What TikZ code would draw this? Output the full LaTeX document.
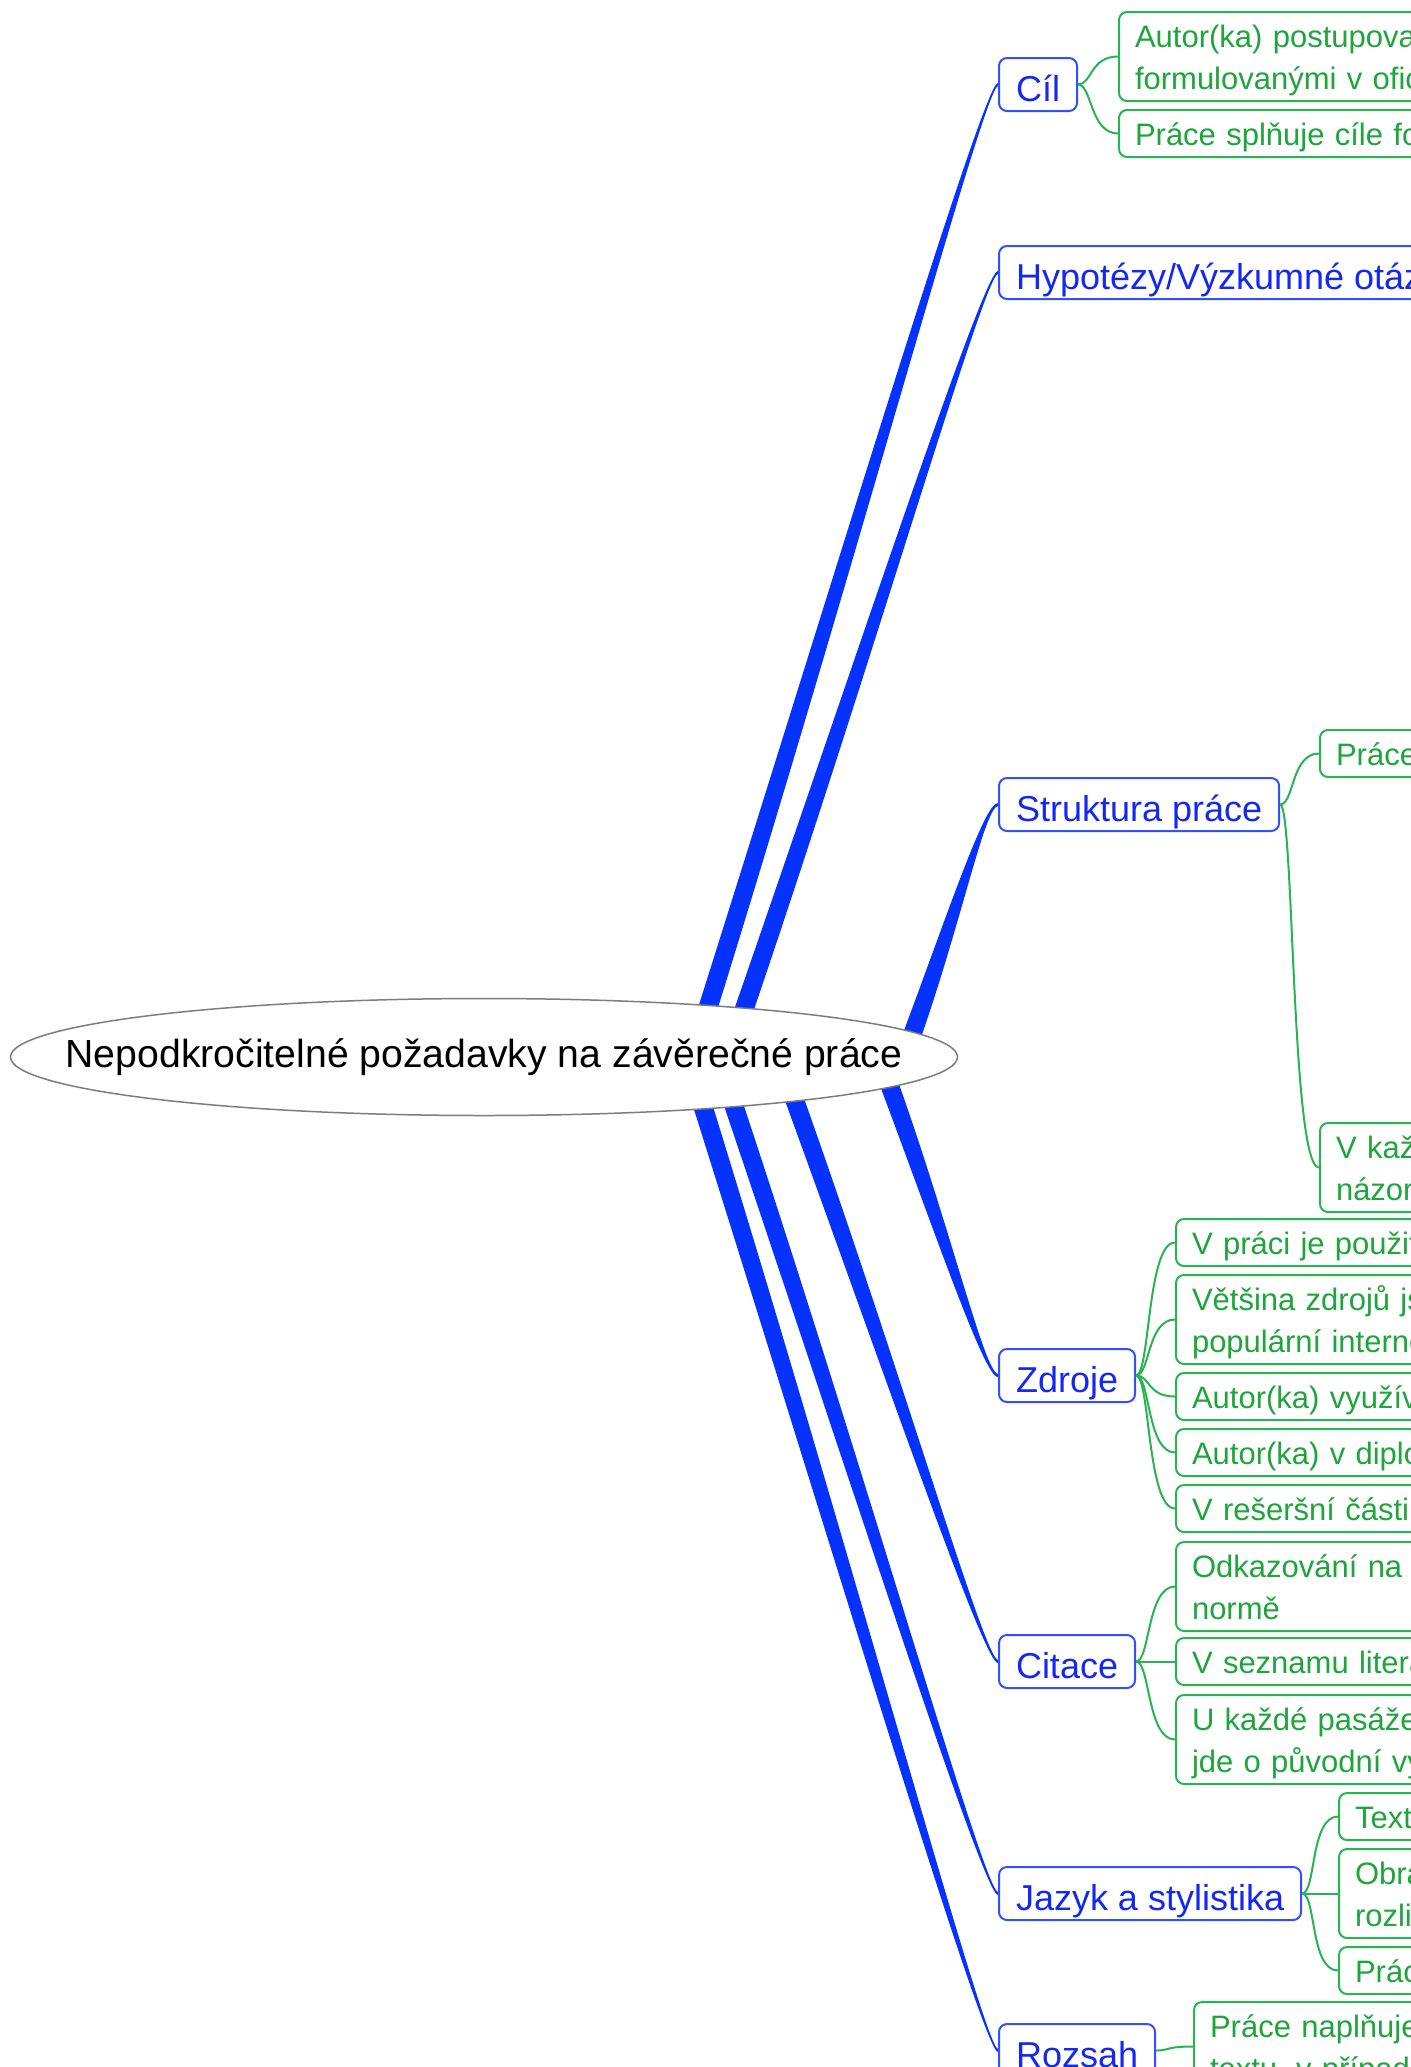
\documentclass[tikz,border=0pt]{standalone}
\usepackage{fontspec}
\setmainfont{Liberation Sans}
\usetikzlibrary{calc,shapes.geometric,backgrounds}
\definecolor{bblue}{RGB}{5,50,255}
\definecolor{nblue}{RGB}{50,80,255}
\definecolor{tblue}{RGB}{20,40,240}
\definecolor{lgreen}{RGB}{40,180,80}
\definecolor{tgreen}{RGB}{30,165,60}
\definecolor{egray}{RGB}{125,125,125}
\newcommand\gs{\rule[-9pt]{0pt}{42pt}}
\newcommand\bs{\rule[-10pt]{0pt}{53pt}}
\newcommand\leaffont{\fontsize{31}{42}\selectfont}
\newcommand\branchfont{\fontsize{36}{43}\selectfont}
\newcommand\rootfont{\fontsize{39.2}{47}\selectfont}
\newcommand\branch[3]{%
 \fill[bblue] ($(#1)+(-10,0)$) .. controls ($(#1)!0.5!(#2)+(-9,0)$) and ($(#2)+(-14,{-3*(#3)})$) .. ($(#2)+(0,{-1.5*(#3)})$) -- ($(#2)+(0,{1.5*(#3)})$) .. controls ($(#2)+(-14,{3*(#3)})$) and ($(#1)!0.5!(#2)+(9,0)$) .. ($(#1)+(10,0)$) -- cycle;}
\begin{document}
\begin{tikzpicture}[x=1pt,y=-1pt,
  rootnode/.style={ellipse,draw=egray,line width=1.5pt,fill=white,minimum width=947pt,minimum height=117pt,inner sep=0pt,font=\rootfont},
  topic/.style={draw=nblue,line width=2pt,rounded corners=8pt,fill=white,text=tblue,font=\branchfont,anchor=north west,inner xsep=17pt,inner ysep=0pt},
  leaf/.style={draw=lgreen,line width=2pt,rounded corners=8pt,fill=white,text=tgreen,font=\leaffont,anchor=north west,inner xsep=16pt,inner ysep=2.5pt,text width=620pt,align=left},
  twig/.style={draw=lgreen,line width=2pt}]
\useasboundingbox (0,0) rectangle (1411,2067);
\clip (0,0) rectangle (1411,2067);

\node[rootnode] (root) at (484,1057) {\makebox[0pt][c]{Nepodkročitelné požadavky na závěrečné práce}};

% main topics
\node[topic] (cil) at (998,57) {\bs Cíl};
\node[topic] (hyp) at (998,245) {\bs Hypotézy/Výzkumné otáz};
\node[topic] (str) at (998,777) {\bs Struktura práce};
\node[topic] (zdr) at (998,1348) {\bs Zdroje};
\node[topic] (cit) at (998,1634) {\bs Citace};
\node[topic] (jaz) at (998,1866) {\bs Jazyk a stylistika};
\node[topic] (roz) at (998,2023) {\bs Rozsah};

% leaves
\node[leaf] (c1) at (1118,11) {\gs Autor(ka) postupova\\\gs formulovanými v ofic};
\node[leaf] (c2) at (1118,109) {\gs Práce splňuje cíle fo};
\node[leaf] (s1) at (1319,729) {\gs Práce};
\node[leaf] (s2) at (1319,1122) {\gs V kaž\\\gs názor};
\node[leaf] (z1) at (1175,1218) {\gs V práci je použit};
\node[leaf] (z2) at (1175,1274) {\gs Většina zdrojů js\\\gs populární interne};
\node[leaf] (z3) at (1175,1372) {\gs Autor(ka) využíva};
\node[leaf] (z4) at (1175,1428) {\gs Autor(ka) v diplo};
\node[leaf] (z5) at (1175,1484) {\gs V rešeršní části};
\node[leaf] (t1) at (1175,1541) {\gs Odkazování na z\\\gs normě};
\node[leaf] (t2) at (1175,1637) {\gs V seznamu litera};
\node[leaf] (t3) at (1175,1694) {\gs U každé pasáže\\\gs jde o původní výt};
\node[leaf] (j1) at (1338,1792) {\gs Text};
\node[leaf] (j2) at (1338,1848) {\gs Obra\\\gs rozli};
\node[leaf] (j3) at (1338,1946) {\gs Prác};
\node[leaf] (r1) at (1193,2001) {\gs Práce naplňuje\\\gs textu, v případě};

% leaf connectors
\foreach \a/\b in {cil/c1,cil/c2,str/s1,str/s2,zdr/z1,zdr/z2,zdr/z3,zdr/z4,zdr/z5,cit/t1,cit/t2,cit/t3,jaz/j1,jaz/j2,jaz/j3,roz/r1}
  \draw[twig] (\a.east) .. controls +(14,0) and +(-28,0) .. (\b.west);

% main branches (behind the central ellipse)
\begin{scope}[on background layer]
\fill[white] (0,0) rectangle (1411,2067);
\coordinate (bc) at ($(root.center)+(217,-27)$);
\coordinate (bh) at ($(root.center)+(252,-24)$);
\coordinate (bs) at ($(root.center)+(420,0)$);
\coordinate (bz) at ($(root.center)+(397,5)$);
\coordinate (bt) at ($(root.center)+(302,19)$);
\coordinate (bj) at ($(root.center)+(242,25)$);
\coordinate (br) at ($(root.center)+(212,27)$);
\branch{bc}{cil.west}{1}
\branch{bh}{hyp.west}{1}
\branch{bs}{str.west}{1}
\branch{bz}{zdr.west}{-1}
\branch{bt}{cit.west}{-1}
\branch{bj}{jaz.west}{-1}
\branch{br}{roz.west}{-1}
\end{scope}
\end{tikzpicture}
\end{document}
